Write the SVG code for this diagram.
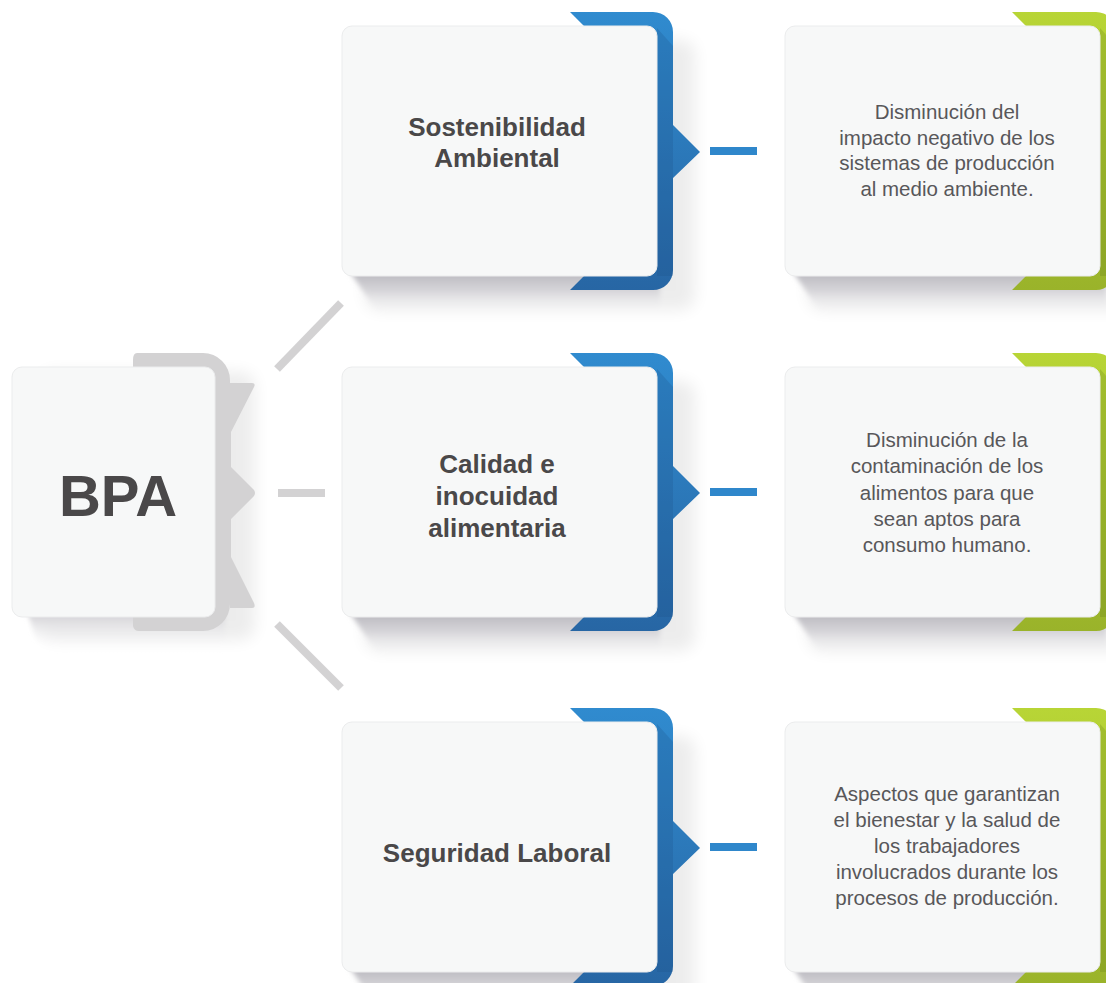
<svg xmlns="http://www.w3.org/2000/svg" width="1106" height="983" viewBox="0 0 1106 983">
  <style>
    .card { fill: #f7f8f8; stroke: #ebeced; stroke-width: 1; }
    .title { font-family: "Liberation Sans", Arial, sans-serif; font-weight: bold; font-size: 26px; fill: #4a4849; text-anchor: middle; }
    .body { font-family: "Liberation Sans", Arial, sans-serif; font-size: 20.5px; fill: #58575a; text-anchor: middle; }
    .big { font-family: "Liberation Sans", Arial, sans-serif; font-weight: bold; font-size: 58px; fill: #4a4849; text-anchor: middle; }
    .grey-link { stroke: #d3d2d3; stroke-width: 8; fill: none; }
    .blue-dash { fill: #2f87cb; }
    .soft { fill: #000; opacity: 0.07; filter: url(#blurWide); }
    .drop { fill: url(#shadeDown); filter: url(#blurNarrow); }
    .bevel-blue { fill: #1d4f86; opacity: 0.22; }
    .bevel-green { fill: #5d7417; opacity: 0.22; }
  </style>
  <defs>
    <linearGradient id="blueFrame" x1="0" y1="0" x2="0" y2="1">
      <stop offset="0" stop-color="#308bcf"/>
      <stop offset="1" stop-color="#2766a4"/>
    </linearGradient>
    <linearGradient id="greenFrame" x1="0" y1="0" x2="0" y2="1">
      <stop offset="0" stop-color="#b8d536"/>
      <stop offset="1" stop-color="#9ab32a"/>
    </linearGradient>
    <linearGradient id="shadeDown" x1="0" y1="0" x2="0" y2="1">
      <stop offset="0" stop-color="#b9b8be"/>
      <stop offset="0.45" stop-color="#d8d7db"/>
      <stop offset="1" stop-color="#ffffff" stop-opacity="0"/>
    </linearGradient>
    <filter id="blurWide" x="-20%" y="-20%" width="140%" height="140%">
      <feGaussianBlur stdDeviation="8"/>
    </filter>
    <filter id="blurNarrow" x="-20%" y="-50%" width="140%" height="200%">
      <feGaussianBlur stdDeviation="2.5"/>
    </filter>
    <!-- card frames, local y = 0 at card top -->
    <path id="blueShape" d="M570,-14 L653,-14 A20,20 0 0 1 673,6 L673,99 L700,126 L673,152 L673,244 A20,20 0 0 1 653,264 L570,264 L584,250 L584,0 Z"/>
    <path id="greenShape" d="M1012,-14 L1096,-14 A20,20 0 0 1 1116,6 L1116,244 A20,20 0 0 1 1096,264 L1012,264 L1026,250 L1026,0 Z"/>
  </defs>

  <!-- connectors -->
  <g id="connectors">
    <line class="grey-link" x1="277" y1="369" x2="341" y2="303"/>
    <rect x="278" y="489" width="47" height="8" fill="#d3d2d3"/>
    <line class="grey-link" x1="277" y1="624" x2="341" y2="688"/>
    <rect class="blue-dash" x="710" y="147" width="47" height="8"/>
    <rect class="blue-dash" x="710" y="488" width="47" height="8"/>
    <rect class="blue-dash" x="710" y="843" width="47" height="8"/>
  </g>

  <!-- root node -->
  <g id="node-bpa">
    <rect class="soft" x="40" y="372" width="215" height="268" rx="14"/>
    <path class="drop" d="M20,590 L225,590 L225,650 L62,650 Q46,650 36,638 Z"/>
    <path fill="#d3d2d3" d="M137,353 L203,353 A27,27 0 0 1 230,380 L230,383 L252,383 Q256,383 254,387 L231,432 L231,467 L254,490 Q256,493 254,496 L231,519 L231,557 L254,603 Q256,608 252,608 L230,608 L230,604 A27,27 0 0 1 203,631 L139,631 Q134,631 133,626 L133,360 Q133,353 137,353 Z"/>
    <rect class="card" x="12" y="367" width="203" height="250" rx="10"/>
    <text class="big" x="118" y="516">BPA</text>
  </g>

  <!-- middle column -->
  <g id="node-sostenibilidad" transform="translate(0,26)">
    <rect class="soft" x="365" y="14" width="330" height="270" rx="14"/>
    <path class="drop" d="M350,246 L660,246 L660,290 L400,290 Q384,290 372,278 Z"/>
    <use href="#blueShape" fill="url(#blueFrame)"/>
    <path class="bevel-blue" d="M657,2 L673,20 L673,250 L657,250 Z"/>
    <rect class="card" x="342" y="0" width="315" height="250" rx="10"/>
    <text class="title" x="497" y="110">Sostenibilidad</text>
    <text class="title" x="497" y="141">Ambiental</text>
  </g>

  <g id="node-calidad" transform="translate(0,367)">
    <rect class="soft" x="365" y="14" width="330" height="270" rx="14"/>
    <path class="drop" d="M350,246 L660,246 L660,290 L400,290 Q384,290 372,278 Z"/>
    <use href="#blueShape" fill="url(#blueFrame)"/>
    <path class="bevel-blue" d="M657,2 L673,20 L673,250 L657,250 Z"/>
    <rect class="card" x="342" y="0" width="315" height="250" rx="10"/>
    <text class="title" x="497" y="106">Calidad e</text>
    <text class="title" x="497" y="138">inocuidad</text>
    <text class="title" x="497" y="170">alimentaria</text>
  </g>

  <g id="node-seguridad" transform="translate(0,722)">
    <rect class="soft" x="365" y="14" width="330" height="270" rx="14"/>
    <path class="drop" d="M350,246 L660,246 L660,290 L400,290 Q384,290 372,278 Z"/>
    <use href="#blueShape" fill="url(#blueFrame)"/>
    <path class="bevel-blue" d="M657,2 L673,20 L673,250 L657,250 Z"/>
    <rect class="card" x="342" y="0" width="315" height="250" rx="10"/>
    <text class="title" x="497" y="140">Seguridad Laboral</text>
  </g>

  <!-- right column -->
  <g id="node-desc-ambiental" transform="translate(0,26)">
    <rect class="soft" x="808" y="14" width="330" height="270" rx="14"/>
    <path class="drop" d="M793,246 L1106,246 L1106,290 L843,290 Q827,290 815,278 Z"/>
    <use href="#greenShape" fill="url(#greenFrame)"/>
    <path class="bevel-green" d="M1100,2 L1116,20 L1116,250 L1100,250 Z"/>
    <rect class="card" x="785" y="0" width="315" height="250" rx="10"/>
    <text class="body" x="947" y="93">Disminución del</text>
    <text class="body" x="947" y="119">impacto negativo de los</text>
    <text class="body" x="947" y="144">sistemas de producción</text>
    <text class="body" x="947" y="170">al medio ambiente.</text>
  </g>

  <g id="node-desc-calidad" transform="translate(0,367)">
    <rect class="soft" x="808" y="14" width="330" height="270" rx="14"/>
    <path class="drop" d="M793,246 L1106,246 L1106,290 L843,290 Q827,290 815,278 Z"/>
    <use href="#greenShape" fill="url(#greenFrame)"/>
    <path class="bevel-green" d="M1100,2 L1116,20 L1116,250 L1100,250 Z"/>
    <rect class="card" x="785" y="0" width="315" height="250" rx="10"/>
    <text class="body" x="947" y="80">Disminución de la</text>
    <text class="body" x="947" y="106">contaminación de los</text>
    <text class="body" x="947" y="133">alimentos para que</text>
    <text class="body" x="947" y="159">sean aptos para</text>
    <text class="body" x="947" y="185">consumo humano.</text>
  </g>

  <g id="node-desc-seguridad" transform="translate(0,722)">
    <rect class="soft" x="808" y="14" width="330" height="270" rx="14"/>
    <path class="drop" d="M793,246 L1106,246 L1106,290 L843,290 Q827,290 815,278 Z"/>
    <use href="#greenShape" fill="url(#greenFrame)"/>
    <path class="bevel-green" d="M1100,2 L1116,20 L1116,250 L1100,250 Z"/>
    <rect class="card" x="785" y="0" width="315" height="250" rx="10"/>
    <text class="body" x="947" y="79">Aspectos que garantizan</text>
    <text class="body" x="947" y="105">el bienestar y la salud de</text>
    <text class="body" x="947" y="131">los trabajadores</text>
    <text class="body" x="947" y="157">involucrados durante los</text>
    <text class="body" x="947" y="183">procesos de producción.</text>
  </g>
</svg>
